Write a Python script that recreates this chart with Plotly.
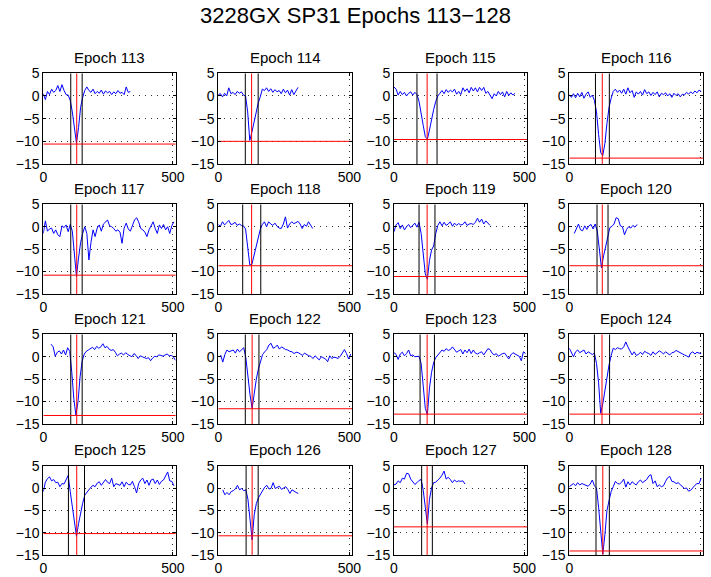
import plotly.graph_objects as go

# ---------------------------------------------------------------------------
# Epoch traces (sampled every STEP samples, beginning at the listed start)
# ---------------------------------------------------------------------------
STEP = 8
epochs = list(range(113, 129))
trace_start = [0, 0, 0, 0, 0, 0, 0, 19, 30, 9, 0, 0, 0, 17, 0, 0]

e113 = [0.5, -0.8, 1.0, 0.3, 1.5, 0.8, 1.2, 2.3, 1.0, 2.5, 1.2, 0.3, 0.2, -1.0,
        -3.5, -7.5, -10.4, -7.0, -2.5, -0.3, 1.2, 2.0, 1.2, 0.8, 1.5, 0.5, 1.0,
        0.6, 1.3, 0.4, 1.1, 0.7, 1.0, 0.3, 0.9, 0.5, 1.2, 0.6, 0.8, 0.3, 2.0,
        0.8, 1.0]
e114 = [0.3, 0.5, -0.2, 0.6, 0.0, 1.8, 0.5, 0.8, 0.3, 1.0, 0.6, 0.9, 0.2, 0.0,
        -3.5, -9.8, -8.0, -5.8, -3.5, -1.6, -0.2, 1.5, 1.2, 1.8, 1.0, 1.6, 0.8,
        1.4, 0.9, 1.2, 0.5, 1.5, 0.7, 1.3, 0.2, 1.4, 0.3, 1.0, 1.9]
e115 = [2.0, 1.5, 0.2, 1.0, 0.3, 0.8, 0.0, 0.6, 0.9, 0.2, 0.8, 0.3, -1.2, -3.5,
        -6.5, -9.0, -9.5, -7.5, -5.0, -3.0, -1.2, 0.0, 0.6, 1.2, 0.5, 1.4, 0.8,
        1.3, 0.9, 1.5, 0.4, 1.0, 0.3, 1.8, 1.0, 1.6, 0.7, 1.9, 1.1, 1.8, 0.9,
        1.9, 1.2, 1.9, 0.6, 1.0, 0.2, -0.6, 0.5, 0.0, 1.0, 0.3, 0.9, -0.2, 1.0,
        0.1, 0.7, 0.2, 0.6]
e116 = [0.3, -0.3, 0.5, -0.4, 0.6, -0.2, 0.8, -0.5, 0.4, 0.9, -0.3, 0.2, -1.0,
        -3.5, -8.5, -12.5, -13.1, -10.5, -6.0, -2.5, -0.5, 1.0, 1.5, 0.8, 1.3,
        0.6, 1.5, 0.4, 1.8, 0.7, 1.2, -0.3, 0.9, 0.4, 1.0, 0.2, 1.4, 0.5, 0.9,
        0.1, 0.8, 0.3, 0.9, -0.2, 0.6, 0.3, 0.7, 0.0, 0.5, -0.3, 0.6, 0.1, 0.5,
        -0.2, 0.4, 0.2, 0.8, 0.4, 0.9, 0.5, 1.1, 0.7, 1.3, 1.0]
e117 = [-1.5, 1.3, -1.0, -0.5, -0.3, -1.5, -0.7, -1.8, -2.2, 0.2, -0.2, 0.4,
        -1.1, 0.5, -1.0, -5.5, -11.1, -7.0, -3.5, -1.5, 0.0, -1.5, -7.4, -3.5,
        -0.7, -2.2, -0.3, 0.4, -1.0, 0.6, 1.1, 1.5, 0.2, 0.0, -0.4, -1.0, -0.7,
        -1.2, -3.7, -0.3, 0.8, -0.5, -1.0, 0.4, 1.5, 2.0, 1.1, -0.4, -0.7, -1.2,
        -2.2, -0.7, 0.2, 1.1, -0.4, -1.5, 0.4, -0.4, 0.5, -0.7, 0.0, -1.5, 0.2,
        1.1]
e118 = [0.5, 0.1, 1.1, 0.4, 0.9, 1.4, 0.5, 0.6, 1.0, 0.3, 0.6, 0.3, 0.2, -0.5,
        -4.5, -8.5, -8.4, -6.5, -4.3, -2.3, -0.6, 0.5, 1.1, 0.0, 1.1, 0.6, 0.3,
        0.8, 0.1, -0.3, -0.4, 0.6, 2.2, -0.3, 0.6, 1.1, 0.7, 0.9, 1.2, 0.6,
        -0.4, 0.5, 0.1, 1.1, 0.2, -0.4]
e119 = [-1.1, 0.4, 0.9, -0.4, 0.4, -0.7, 0.0, 0.5, -0.2, 0.3, 0.8, -0.1, 1.0,
        -1.5, -6.5, -10.5, -11.7, -7.5, -5.2, -4.3, -1.5, 0.3, 1.1, 0.2, 1.0,
        0.3, 0.6, 1.1, 0.1, 0.8, 0.3, 0.7, 0.4, 0.5, 1.1, 0.3, 0.6, 0.7, 0.5,
        1.0, 1.9, 1.0, 1.7, 0.6, 1.3, 0.9, 0.3]
e120 = [-1.5, -0.3, 0.6, -0.7, -0.9, 0.2, -0.6, 0.2, 0.5, -0.5, 0.6, -1.0,
        -4.5, -9.2, -6.5, -4.5, -2.5, -0.2, 0.1, 0.6, 2.0, 1.8, 0.2, 0.0, -1.8,
        -0.6, 0.0, -0.3, 0.3, -0.1, 0.5]
e121 = [2.8, 2.2, 0.1, 1.0, 1.3, 0.6, 1.5, 0.4, 2.0, 1.2, -3.5, -9.5, -13.0,
        -10.0, -4.5, -1.0, 0.6, 1.2, 1.5, 1.8, 2.1, 1.6, 2.3, 1.9, 2.2, 2.9,
        2.0, 2.3, 1.7, 1.4, 1.6, 1.0, 0.2, 0.6, 0.8, 0.4, 0.9, 0.5, 0.2, 0.0,
        0.7, 0.3, -0.4, 0.2, 0.0, -0.2, -0.4, -0.2, -0.9, -0.3, 0.1, 0.0, 0.4,
        0.3, 0.1, 0.4, 0.6, 0.2, 0.3, 0.0, -0.8]
e122 = [0.4, -1.2, 0.5, 1.5, 1.1, 1.3, 1.5, 0.8, 1.7, 1.1, 1.5, 2.0, -0.2,
        -4.5, -8.5, -11.5, -8.0, -5.0, -2.7, -0.9, 0.5, 1.1, 1.6, 2.6, 3.0, 1.9,
        2.1, 2.6, 1.7, 2.2, 1.8, 1.6, 1.5, 1.2, 1.1, 0.7, 1.0, 0.9, 0.6, 0.3,
        0.8, 0.5, 0.2, 0.1, -0.4, 0.2, -0.2, -0.7, 0.0, -0.3, -0.5, -1.1, 0.2,
        -0.4, -0.1, -0.2, -0.4, 0.1, 0.9, 1.6, 0.7, -0.5, 0.6]
e123 = [0.9, 0.5, -0.6, 0.6, 1.0, 0.2, 0.7, 1.5, 0.2, 0.4, 0.0, 0.1, 0.1, -1.5,
        -6.0, -11.5, -12.9, -7.0, -3.5, -1.3, -0.2, 0.3, 0.8, 1.5, 1.2, 1.8,
        1.4, 1.6, 2.2, 1.5, 1.0, 1.3, 1.6, 0.6, 1.5, 0.9, 1.7, 0.7, 1.5, 0.8,
        0.6, 0.9, 1.1, 0.4, 1.1, 1.8, 1.6, 0.8, 0.4, 0.7, 0.1, 0.5, 0.7, 0.8,
        0.1, -0.5, 0.4, 0.9, 0.6, 0.4, 0.1, -0.9, 1.1, 0.7]
e124 = [1.9, 1.0, 0.0, 1.1, 1.5, 0.9, 1.2, 1.5, 0.6, 1.1, 0.8, 0.5, 0.8, -1.5,
        -5.8, -12.6, -10.5, -7.5, -3.8, -1.8, 0.3, 1.9, 1.6, 2.0, 1.8, 1.7, 2.2,
        3.3, 2.2, 1.4, 0.4, 1.1, 0.3, 0.5, 1.0, 0.5, 1.2, 0.9, 0.7, 0.3, 1.1,
        0.5, 0.9, 1.3, 1.0, 0.6, 1.1, 0.8, 0.4, 0.9, 1.0, 1.4, 1.1, 0.8, 0.5,
        0.4, 0.2, -0.1, 0.8, 1.1, 0.6, 1.0, 0.8, 0.7]
e125 = [-0.8, 1.3, 2.1, 2.5, 1.6, 1.9, 1.2, 1.3, 0.3, 1.0, 0.9, 1.8, 2.8, -0.8,
        -4.5, -8.3, -10.8, -8.0, -5.5, -3.4, -1.6, -0.9, -0.3, 0.2, 0.6, 0.3,
        1.1, 1.4, 0.6, 1.2, 1.9, 1.3, 1.0, 2.2, 0.3, 1.0, 0.8, 0.6, 1.4, 0.3,
        1.3, 0.8, 0.7, 1.5, 0.3, -1.1, 1.0, 1.8, 2.2, 1.0, 1.8, 0.6, 1.8, 2.0,
        1.0, 1.8, 0.8, 1.5, 1.8, 2.8, 3.6, 1.6, 1.5, 0.5]
e126 = [-0.4, -1.5, -1.0, -1.5, -0.8, -0.6, -0.2, 0.6, -0.4, -0.1, -0.6, -0.4,
        -2.5, -7.5, -11.6, -6.0, -3.5, -2.2, -1.3, -0.6, 0.2, 0.6, -0.2, -0.1,
        1.2, -0.1, 0.2, 0.4, -0.3, 0.0, 0.3, -0.3, -1.2, -0.4, -0.8, -1.0, -1.2]
e127 = [0.7, 0.9, 1.6, 1.2, 2.2, 2.0, 3.3, 3.2, 2.0, 1.3, 0.8, 1.2, 1.7, 1.9,
        -0.5, -4.3, -8.1, -2.5, 0.0, 1.2, 1.3, 1.8, 2.2, 2.9, 3.8, 2.0, 2.4,
        1.9, 1.2, 1.8, 1.4, 1.6, 1.5, 1.6, 0.9]
e128 = [0.3, 0.6, 1.0, 0.5, 1.2, 0.7, 1.0, 0.8, 0.6, 0.4, 0.9, 1.8, 0.5, 0.0,
        -4.3, -10.5, -14.8, -10.5, -5.0, -2.8, -0.8, 0.3, 1.5, 1.0, 0.9, 1.3,
        2.0, 0.2, 1.4, 0.7, 1.4, 1.0, 0.7, 1.4, 1.8, 1.2, 1.5, 1.9, 2.7, 3.0,
        1.0, 1.6, 0.3, 0.7, 0.3, 0.5, 1.5, 2.3, 2.6, 1.5, 1.4, 1.0, 1.2, 0.8,
        0.4, -0.1, 0.0, -0.7, -0.5, 0.1, 0.6, 1.0, 1.0, 2.2]

signals = [e113, e114, e115, e116, e117, e118, e119, e120,
           e121, e122, e123, e124, e125, e126, e127, e128]

# Window markers (sample index) and detection threshold per epoch
onset_marks = [106, 103, 88, 100, 106, 93, 96, 106, 106, 103, 100, 96, 97, 106, 106, 102]
peak_marks = [129, 127, 127, 126, 129, 127, 127, 126, 129, 129, 127, 125, 129, 129, 127, 128]
offset_marks = [150, 152, 165, 153, 150, 162, 157, 148, 150, 155, 155, 154, 159, 152, 147, 153]
thresholds = [-10.6, -10.0, -9.6, -13.7, -10.8, -8.7, -11.1, -8.7,
              -13.1, -11.6, -12.8, -12.8, -10.2, -10.7, -8.7, -14.1]

x_ticks = [0, 500]
y_ticks = [-15, -10, -5, 0, 5]
X_MAX = 511
Y_MIN, Y_MAX = -15, 5

# ---------------------------------------------------------------------------
# Page geometry (pixels)
# ---------------------------------------------------------------------------
W, H = 711, 577
col_px = [(43.3, 175.7), (218.3, 352.3), (394.0, 527.3), (569.3, 703.0)]
row_px = [(73.3, 164.0), (204.3, 294.0), (334.3, 424.0), (465.7, 555.0)]

FONT = "Liberation Sans, Arial, Helvetica, sans-serif"

fig = go.Figure()
layout = dict(
    width=W, height=H,
    margin=dict(l=0, r=0, t=0, b=0),
    paper_bgcolor="white", plot_bgcolor="white",
    showlegend=False,
    font=dict(family=FONT, size=14, color="black"),
    annotations=[],
)


def minus(v):
    return str(v).replace("-", "\u2212")


for k, ep in enumerate(epochs):
    r, c = divmod(k, 4)
    suffix = "" if k == 0 else str(k + 1)
    xa, ya = "x" + suffix, "y" + suffix

    vals = signals[k]
    xs = [trace_start[k] + STEP * i for i in range(len(vals))]

    # signal
    fig.add_trace(go.Scatter(x=xs, y=vals, mode="lines", xaxis=xa, yaxis=ya,
                             line=dict(color="#0000ff", width=1), hoverinfo="skip"))
    # window bounds
    for xv in (onset_marks[k], offset_marks[k]):
        fig.add_trace(go.Scatter(x=[xv, xv], y=[Y_MIN, Y_MAX], mode="lines",
                                 xaxis=xa, yaxis=ya,
                                 line=dict(color="black", width=1), hoverinfo="skip"))
    # peak marker
    fig.add_trace(go.Scatter(x=[peak_marks[k]] * 2, y=[Y_MIN, Y_MAX], mode="lines",
                             xaxis=xa, yaxis=ya,
                             line=dict(color="#ff0000", width=1), hoverinfo="skip"))
    # threshold
    fig.add_trace(go.Scatter(x=[0, X_MAX], y=[thresholds[k]] * 2, mode="lines",
                             xaxis=xa, yaxis=ya,
                             line=dict(color="#ff0000", width=1), hoverinfo="skip"))

    L, R = col_px[c]
    T, B = row_px[r]
    common = dict(
        showline=True, linecolor="black", linewidth=1, mirror="ticks",
        ticks="inside", ticklen=3, tickcolor="black", tickwidth=1,
        showgrid=True, gridcolor="#333333", gridwidth=1, griddash="1px,5px",
        zeroline=False, fixedrange=True, automargin=False,
        tickfont=dict(family=FONT, size=14, color="black"),
    )
    layout["xaxis" + suffix] = dict(
        common, domain=[L / W, R / W], range=[0, X_MAX], anchor=ya,
        tickmode="array", tickvals=x_ticks, ticktext=[str(v) for v in x_ticks],
    )
    layout["yaxis" + suffix] = dict(
        common, domain=[1 - B / H, 1 - T / H], range=[Y_MIN, Y_MAX], anchor=xa,
        tickmode="array", tickvals=y_ticks, ticktext=[minus(v) for v in y_ticks],
    )
    layout["annotations"].append(dict(
        text=f"Epoch {ep}", x=(L + R) / 2 / W, y=1 - (T - 16) / H,
        xref="paper", yref="paper", xanchor="center", yanchor="middle",
        showarrow=False, font=dict(family=FONT, size=15, color="black"),
    ))

layout["annotations"].append(dict(
    text=f"3228GX SP31 Epochs {epochs[0]}\u2212{epochs[-1]}",
    x=0.5, y=1 - 16 / H, xref="paper", yref="paper",
    xanchor="center", yanchor="middle", showarrow=False,
    font=dict(family=FONT, size=22, color="black"),
))

fig.update_layout(**layout)
fig.write_html("out.html")
